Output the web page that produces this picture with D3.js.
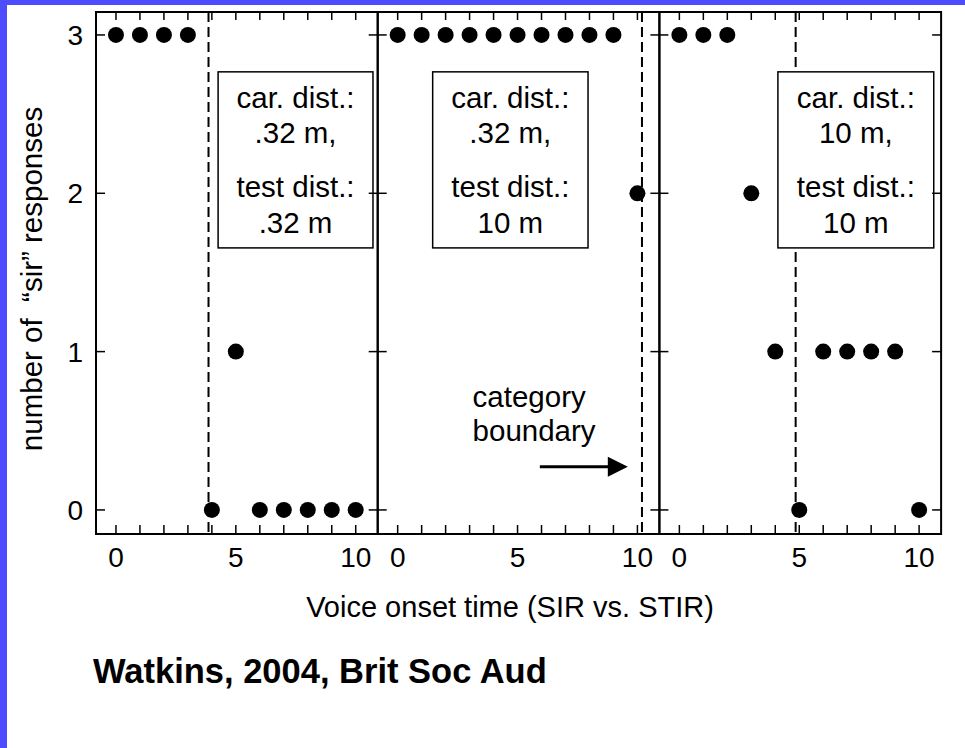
<!DOCTYPE html>
<html>
<head>
<meta charset="utf-8">
<title></title>
<script src="https://cdn.jsdelivr.net/npm/d3@7"></script>
<style>
	body { margin: 0; background: #fff; }
	text { font-family: Arial, "Liberation Sans", sans-serif; fill: #000; }
</style>
</head>
<body>
<div id="chart"></div>
<script>

// voice onset steps (SIR .. STIR)
var steps = [0, 1, 2, 3, 4, 5, 6, 7, 8, 9, 10];

// number of "sir" responses for each condition
var sirNearNear = [3, 3, 3, 3, 0, 1, 0, 0, 0, 0, 0];
var sirNearFar = [3, 3, 3, 3, 3, 3, 3, 3, 3, 3, 2];
var sirFarFar = [3, 3, 3, 2, 1, 0, 1, 1, 1, 1, 0];

// category boundary for each condition
var boundaries = [3.86, 10.19, 4.85];

var carrierDist = ['.32 m,', '.32 m,', '10 m,'];
var testDist = ['.32 m', '10 m', '10 m'];

var xTicks = [0, 5, 10];
var yTicks = [0, 1, 2, 3];

var series = [sirNearNear, sirNearFar, sirFarFar];

var W = 965, H = 748;
var svg = d3.select('#chart').append('svg')
	.attr('width', W)
	.attr('height', H);

svg.append('rect').attr('width', W).attr('height', H).attr('fill', '#fff');
// blue slide edges
svg.append('rect').attr('x', 0).attr('y', 0).attr('width', 7).attr('height', H).attr('fill', '#4d4dff');
svg.append('rect').attr('x', 0).attr('y', 0).attr('width', W).attr('height', 5).attr('fill', '#4d4dff');

var plotTop = 12, plotBottom = 534;
var panelW = 281.7;
var firstLeft = 96;

var y = d3.scaleLinear().domain([-0.152, 3.145]).range([plotBottom, plotTop]);

// where the label box sits inside each panel (in step units)
var boxX = [[4.26, 10.72], [1.46, 7.94], [4.11, 10.61]];
var boxY = [2.767, 1.655];

series.forEach(function(vals, i){
	var left = firstLeft + i * panelW;
	var x = d3.scaleLinear().domain([-0.833, 10.917]).range([left, left + panelW]);
	var g = svg.append('g');

	// boundary
	g.append('line')
		.attr('x1', x(boundaries[i])).attr('x2', x(boundaries[i]))
		.attr('y1', plotTop).attr('y2', plotBottom)
		.attr('stroke', '#000').attr('stroke-width', 2)
		.attr('stroke-dasharray', '10,5');

	// label box (white, hides the dashed line)
	var bx0 = x(boxX[i][0]), bx1 = x(boxX[i][1]);
	var by0 = y(boxY[0]), by1 = y(boxY[1]);
	g.append('rect')
		.attr('x', bx0).attr('y', by0)
		.attr('width', bx1 - bx0).attr('height', by1 - by0)
		.attr('fill', '#fff').attr('stroke', '#000').attr('stroke-width', 1.5);

	var cx = (bx0 + bx1) / 2;
	var lines = ['car. dist.:', carrierDist[i], 'test dist.:', testDist[i]];
	var offs = [36, 71, 125, 161];
	lines.forEach(function(t, k){
		g.append('text')
			.attr('x', cx).attr('y', by0 + offs[k])
			.attr('text-anchor', 'middle')
			.style('font-size', '29.5px')
			.text(t);
	});

	// ticks, all pointing inward
	steps.forEach(function(s){
		g.append('line').attr('x1', x(s)).attr('x2', x(s)).attr('y1', plotBottom).attr('y2', plotBottom - 9)
			.attr('stroke', '#000').attr('stroke-width', 1.5);
		g.append('line').attr('x1', x(s)).attr('x2', x(s)).attr('y1', plotTop).attr('y2', plotTop + 8)
			.attr('stroke', '#000').attr('stroke-width', 1.5);
	});
	yTicks.forEach(function(v){
		g.append('line').attr('x1', left).attr('x2', left + 9).attr('y1', y(v)).attr('y2', y(v))
			.attr('stroke', '#000').attr('stroke-width', 1.5);
		g.append('line').attr('x1', left + panelW).attr('x2', left + panelW - 9).attr('y1', y(v)).attr('y2', y(v))
			.attr('stroke', '#000').attr('stroke-width', 1.5);
	});

	// frame
	g.append('rect')
		.attr('x', left).attr('y', plotTop)
		.attr('width', panelW).attr('height', plotBottom - plotTop)
		.attr('fill', 'none').attr('stroke', '#000').attr('stroke-width', 2);

	g.selectAll('.xlab').data(xTicks).enter().append('text')
		.attr('x', function(d){ return x(d); })
		.attr('y', 567)
		.attr('text-anchor', 'middle')
		.style('font-size', '28px')
		.text(function(d){ return d; });

	g.selectAll('.dot').data(steps).enter().append('circle')
		.attr('cx', function(d){ return x(d); })
		.attr('cy', function(d, k){ return y(vals[k]); })
		.attr('r', 8)
		.attr('fill', '#000');

	if (i == 0) {
		g.selectAll('.ylab').data(yTicks).enter().append('text')
			.attr('x', 83)
			.attr('y', function(d){ return y(d); })
			.attr('dy', '0.36em')
			.attr('text-anchor', 'end')
			.style('font-size', '28px')
			.text(function(d){ return d; });
	}

	if (i == 1) {
		// category boundary note + arrow
		var ax0 = x(5.93), ax1 = x(9.6), ay = y(0.273);
		g.append('line').attr('x1', ax0).attr('x2', ax1 - 18).attr('y1', ay).attr('y2', ay)
			.attr('stroke', '#000').attr('stroke-width', 3);
		g.append('path')
			.attr('d', 'M' + ax1 + ',' + ay + 'L' + (ax1 - 20) + ',' + (ay - 10) + 'L' + (ax1 - 20) + ',' + (ay + 10) + 'Z')
			.attr('fill', '#000');
		g.append('text').attr('x', x(3.125)).attr('y', 407).style('font-size', '29.5px').text('category');
		g.append('text').attr('x', x(3.125)).attr('y', 441).style('font-size', '29.5px').text('boundary');
	}
});

svg.append('text')
	.attr('x', 510).attr('y', 617)
	.attr('text-anchor', 'middle')
	.style('font-size', '29px')
	.text('Voice onset time (SIR vs. STIR)');

svg.append('text')
	.attr('transform', 'translate(42,279) rotate(-90)')
	.attr('text-anchor', 'middle')
	.style('font-size', '29.5px')
	.style('white-space', 'pre')
	.text('number of  \u201csir\u201d responses');

svg.append('text')
	.attr('x', 93).attr('y', 683)
	.style('font-size', '34.5px')
	.style('font-weight', 'bold')
	.text('Watkins, 2004, Brit Soc Aud');

</script>
</body>
</html>
